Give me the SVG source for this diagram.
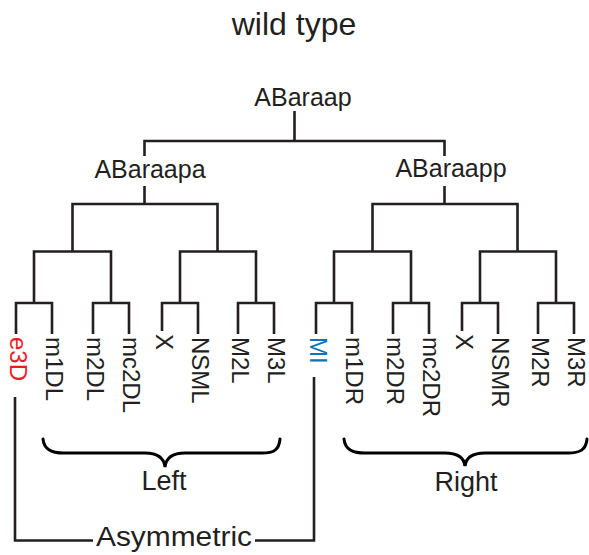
<svg xmlns="http://www.w3.org/2000/svg" width="589" height="555" viewBox="0 0 589 555">
  <style>
    .t { font-family: "Liberation Sans", Arial, Helvetica, sans-serif; fill: #231f20; }
    .lbl { font-size: 25px; text-anchor: middle; }
    .leaf { font-size: 24px; }
    .grp { font-size: 27px; text-anchor: middle; }
    .edge { fill: none; stroke: #231f20; stroke-width: 2.6; stroke-linejoin: miter; stroke-linecap: butt; }
    .brace { fill: none; stroke: #000; stroke-width: 3; stroke-linecap: round; }
    .red { fill: #ed1c24; }
    .blue { fill: #0f72ba; }
  </style>

  <text class="t" x="294" y="35" font-size="32" text-anchor="middle">wild type</text>

  <!-- lineage connectors -->
  <g id="connectors">
    <path class="edge" d="M294.5,111 V141"/>
    <path class="edge" d="M144.5,156 V141 H444.5 V156"/>
    <!-- ABaraapa subtree -->
    <path class="edge" d="M144.5,186 V204"/>
    <path class="edge" d="M72.5,251.5 V204 H217.5 V251.5"/>
    <path class="edge" d="M34,303 V251.5 H111 V303"/>
    <path class="edge" d="M180,303 V251.5 H256 V303"/>
    <path class="edge" d="M16,334 V303 H52 V334"/>
    <path class="edge" d="M93,334 V303 H129 V334"/>
    <path class="edge" d="M162,331 V303 H198 V334"/>
    <path class="edge" d="M238,334 V303 H274 V334"/>
    <!-- ABaraapp subtree -->
    <path class="edge" d="M444.5,186 V204"/>
    <path class="edge" d="M372.5,251.5 V204 H517.5 V251.5"/>
    <path class="edge" d="M334,303 V251.5 H411 V303"/>
    <path class="edge" d="M480,303 V251.5 H556 V303"/>
    <path class="edge" d="M316,334 V303 H352 V334"/>
    <path class="edge" d="M393,334 V303 H429 V334"/>
    <path class="edge" d="M462,331 V303 H498 V334"/>
    <path class="edge" d="M538,334 V303 H574 V334"/>
    <!-- asymmetric pair bracket -->
    <path class="edge" d="M15,397 V540.5 H93"/>
    <path class="edge" d="M255,540.5 H314 V377"/>
  </g>

  <g id="ABaraap"><text class="t lbl" x="303" y="106">ABaraap</text></g>
  <g id="ABaraapa"><text class="t lbl" x="150" y="178">ABaraapa</text></g>
  <g id="ABaraapp"><text class="t lbl" x="451" y="177">ABaraapp</text></g>

  <!-- left leaves -->
  <g id="e3D"><text class="t leaf red" transform="translate(9.5,337) rotate(90)">e3D</text></g>
  <g id="m1DL"><text class="t leaf" transform="translate(45.5,337) rotate(90)">m1DL</text></g>
  <g id="m2DL"><text class="t leaf" transform="translate(86.5,337) rotate(90)">m2DL</text></g>
  <g id="mc2DL"><text class="t leaf" transform="translate(122.5,337) rotate(90)">mc2DL</text></g>
  <g id="XL"><text class="t leaf" transform="translate(155.5,334) rotate(90)">X</text></g>
  <g id="NSML"><text class="t leaf" transform="translate(191.5,337) rotate(90)">NSML</text></g>
  <g id="M2L"><text class="t leaf" transform="translate(231.5,337) rotate(90)">M2L</text></g>
  <g id="M3L"><text class="t leaf" transform="translate(267.5,337) rotate(90)">M3L</text></g>

  <!-- right leaves -->
  <g id="MI"><text class="t leaf blue" transform="translate(309.5,337) rotate(90)">MI</text></g>
  <g id="m1DR"><text class="t leaf" transform="translate(345.5,337) rotate(90)">m1DR</text></g>
  <g id="m2DR"><text class="t leaf" transform="translate(386.5,337) rotate(90)">m2DR</text></g>
  <g id="mc2DR"><text class="t leaf" transform="translate(422.5,337) rotate(90)">mc2DR</text></g>
  <g id="XR"><text class="t leaf" transform="translate(455.5,334) rotate(90)">X</text></g>
  <g id="NSMR"><text class="t leaf" transform="translate(491.5,337) rotate(90)">NSMR</text></g>
  <g id="M2R"><text class="t leaf" transform="translate(531.5,337) rotate(90)">M2R</text></g>
  <g id="M3R"><text class="t leaf" transform="translate(567.5,337) rotate(90)">M3R</text></g>

  <!-- side braces -->
  <g id="Left">
    <path class="brace" d="M43,439 C44,450 52,453 64,453 H145 C158,453 164,458 165,467 C166,458 172,453 185,453 H262 C274,453 279,450 280,439"/>
    <text class="t grp" x="164" y="490">Left</text>
  </g>
  <g id="Right">
    <path class="brace" d="M344,439 C345,450 353,453 365,453 H445 C458,453 464,458 465,466 C466,458 472,453 485,453 H568 C580,453 586,450 587,439"/>
    <text class="t grp" x="466" y="491">Right</text>
  </g>

  <g id="Asymmetric">
    <text class="t grp" x="174" y="546" textLength="156" lengthAdjust="spacingAndGlyphs">Asymmetric</text>
  </g>
</svg>
